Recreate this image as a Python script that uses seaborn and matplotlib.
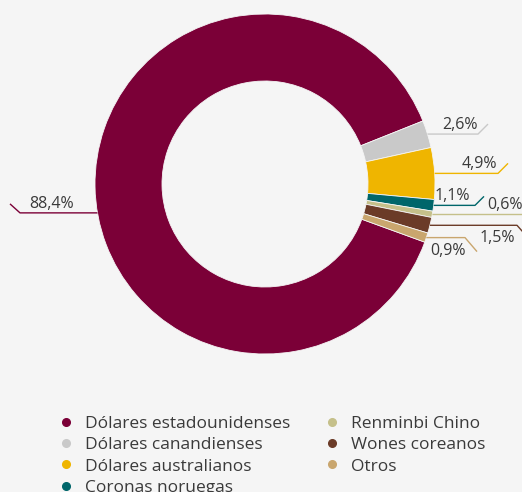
import numpy as np
import matplotlib
matplotlib.use("Agg")
import matplotlib.pyplot as plt
import seaborn as sns
from matplotlib.lines import Line2D

# ---- data ----
categories = ["Dólares estadounidenses", "Dólares canandienses", "Dólares australianos",
              "Coronas noruegas", "Renminbi Chino", "Wones coreanos", "Otros"]
values = [88.4, 2.6, 4.9, 1.1, 0.6, 1.5, 0.9]
value_labels = ["88,4%", "2,6%", "4,9%", "1,1%", "0,6%", "1,5%", "0,9%"]
colors = ["#7b0037", "#c9c9c9", "#efb500", "#00666a", "#c5c08a", "#6b3b28", "#c9a66e"]

# ---- layout (pixels, y down) ----
W, H = 522, 492
BG = "#f5f5f5"
TXT = "#3a3a3a"
label_angle_shift = [8.9, 0, 0, 0, 0, 0, 0]          # degrees, moves anchor for big slice
line_end_x = [20, 478, 498, 475, 530, 517, 465]
tick_d = [(-10, -9), (10, -10), (10, -10), (9, -9), (10, -10), (8, 9), (12, 14)]
text_side = ["above", "above", "above", "above", "above", "below", "below"]
text_x = [29, 478, 497, 470, 523, 515, 466]
text_ha = ["left", "right", "right", "right", "right", "right", "right"]

sns.set_theme(style="white")
plt.rcParams['font.family'] = ['Open Sans', 'DejaVu Sans']

fig = plt.figure(figsize=(W / 100, H / 100), dpi=100, facecolor=BG)
ax = fig.add_axes([0, 0, 1, 1])
ax.set_facecolor(BG)

cx, cy_pix, R, Rin = 265, 184, 170, 103
cy = H - cy_pix
wedges, _ = ax.pie(values, colors=colors, startangle=-20, counterclock=False,
                   radius=R, center=(cx, cy), frame=True,
                   wedgeprops=dict(width=R - Rin, edgecolor=BG, linewidth=0.6))
ax.set_xlim(0, W)
ax.set_ylim(0, H)
ax.set_aspect('equal')
ax.axis('off')

for i, w in enumerate(wedges):
    mid = np.deg2rad((w.theta1 + w.theta2) / 2 + label_angle_shift[i])
    ax_x = cx + R * np.cos(mid)
    ax_y = cy + R * np.sin(mid)
    ex = line_end_x[i]
    dx, dy = tick_d[i]
    ax.plot([ax_x, ex, ex + dx], [ax_y, ax_y, ax_y - dy], color=colors[i],
            lw=1.0, solid_capstyle='butt', clip_on=False)
    ty = ax_y + 9 if text_side[i] == "above" else ax_y - 13
    ax.text(text_x[i], ty, value_labels[i], ha=text_ha[i], va='center',
            fontsize=11.5, color=TXT)

handles = [Line2D([], [], marker='o', linestyle='none', markersize=5.5,
                  markerfacecolor=c, markeredgecolor=c) for c in colors]
leg = ax.legend(handles, categories, ncol=2, frameon=False, loc='upper left',
                bbox_to_anchor=(57 / W, 1 - 416 / H), bbox_transform=fig.transFigure,
                fontsize=12.5, labelcolor=TXT, handlelength=1.0, handletextpad=0.6,
                labelspacing=0.29, columnspacing=1.9, borderaxespad=0, borderpad=0)

fig.savefig("out.png", dpi=100, facecolor=BG)
